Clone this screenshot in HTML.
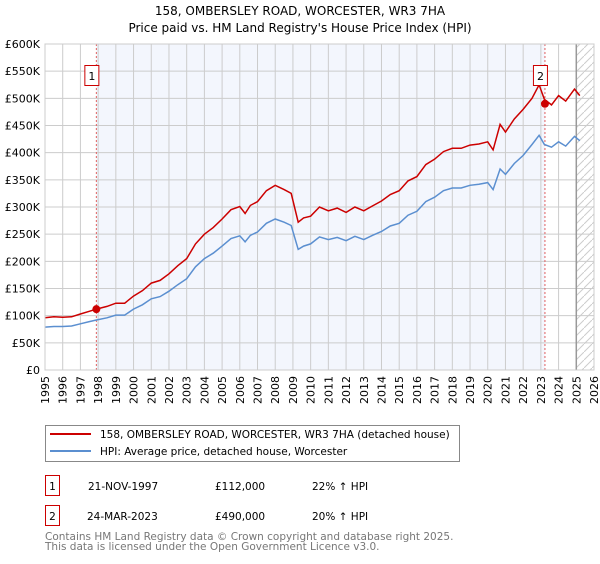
<!DOCTYPE html>
<html><head><meta charset="utf-8"><style>
body{margin:0;background:#fff;font-family:"DejaVu Sans","Liberation Sans",sans-serif;}
svg text{font-family:"DejaVu Sans","Liberation Sans",sans-serif;}
</style></head><body>
<svg id="c" width="600" height="560" viewBox="0 0 600 560" xmlns="http://www.w3.org/2000/svg">
<defs><pattern id="hatch" width="8" height="8" patternUnits="userSpaceOnUse"><path d="M0,8 L8,0" stroke="#ccc" stroke-width="1"/></pattern></defs>
<text x="300" y="15" text-anchor="middle" font-size="12">158, OMBERSLEY ROAD, WORCESTER, WR3 7HA</text>
<text x="300" y="32" text-anchor="middle" font-size="12">Price paid vs. HM Land Registry's House Price Index (HPI)</text>
<g id="plot"></g>
<g>
<rect x="45.5" y="425.5" width="414" height="36" fill="#fff" stroke="#888"/>
<line x1="50" y1="434" x2="91" y2="434" stroke="#cc0000" stroke-width="2"/>
<text x="100" y="438" font-size="10.5">158, OMBERSLEY ROAD, WORCESTER, WR3 7HA (detached house)</text>
<line x1="50" y1="451" x2="91" y2="451" stroke="#5b8fd0" stroke-width="2"/>
<text x="100" y="455" font-size="10.5">HPI: Average price, detached house, Worcester</text>
</g>
<g font-size="10.5">
<rect x="45.5" y="475.5" width="14" height="20" fill="#fff" stroke="#cc0000"/>
<text x="52.5" y="490" text-anchor="middle">1</text>
<text x="88" y="490">21-NOV-1997</text><text x="215" y="490">£112,000</text><text x="312" y="490">22% ↑ HPI</text>
<rect x="45.5" y="505.5" width="14" height="20" fill="#fff" stroke="#cc0000"/>
<text x="52.5" y="520" text-anchor="middle">2</text>
<text x="87" y="520">24-MAR-2023</text><text x="215" y="520">£490,000</text><text x="312" y="520">20% ↑ HPI</text>
</g>
<text x="45" y="540" font-size="10.5" fill="#777">Contains HM Land Registry data © Crown copyright and database right 2025.</text>
<text x="45" y="550" font-size="10.5" fill="#777">This data is licensed under the Open Government Licence v3.0.</text>
</svg>
<script>
const hpiYears=[1995,1995.5,1996,1996.5,1997,1997.5,1997.9,1998.5,1999,1999.5,2000,2000.5,2001,2001.5,2002,2002.5,2003,2003.5,2004,2004.5,2005,2005.5,2006,2006.3,2006.6,2007,2007.5,2008,2008.5,2008.9,2009.3,2009.6,2010,2010.5,2011,2011.5,2012,2012.5,2013,2013.5,2014,2014.5,2015,2015.5,2016,2016.5,2017,2017.5,2018,2018.5,2019,2019.5,2020,2020.3,2020.7,2021,2021.5,2022,2022.5,2022.9,2023.2,2023.6,2024,2024.4,2024.9,2025.2];
const hpiValues=[79,80,80,81,85,89,92,96,101,101,112,120,131,135,145,157,168,190,205,215,228,242,247,236,248,254,270,278,272,266,222,228,232,245,240,244,238,246,240,248,255,265,270,285,292,310,318,330,335,335,340,342,345,332,370,360,380,395,415,432,415,410,420,412,430,422];
const ppValues=[96,98,97,98,103,108,112,117,123,123,136,146,160,165,177,192,205,232,250,262,278,295,301,288,303,310,330,340,332,325,272,280,283,300,293,298,290,300,293,302,311,323,330,348,356,378,388,402,408,408,414,416,420,405,452,438,462,480,500,525,498,488,505,495,517,505];
const sales=[[1997.9,112,"1"],[2023.23,490,"2"]];
const yTicks=[0,50,100,150,200,250,300,350,400,450,500,550,600];
const yTickLabels=["£0","£50K","£100K","£150K","£200K","£250K","£300K","£350K","£400K","£450K","£500K","£550K","£600K"];
const xTicks=[];for(let y=1995;y<=2026;y++)xTicks.push(y);
const L=45,R=594,T=44,B=370,X0=1995,X1=2026;
const sx=v=>L+(v-X0)/(X1-X0)*(R-L), sy=v=>B-v/600*(B-T);
const g=document.getElementById('plot'),NS='http://www.w3.org/2000/svg';
function mk(t,a,p){const e=document.createElementNS(NS,t);for(const k in a)e.setAttribute(k,a[k]);(p||g).appendChild(e);return e;}
let e;
e=mk('rect',{x:sx(sales[0][0]),y:T,width:sx(sales[1][0])-sx(sales[0][0]),height:B-T,fill:'#f3f6fd'});


e=mk('rect',{x:sx(2025.0),y:T,width:R-sx(2025.0),height:B-T,fill:'url(#hatch)'});


xTicks.forEach(v=>{e=mk('line',{x1:sx(v),y1:T,x2:sx(v),y2:B,stroke:'#ccc'});


e=mk('text',{x:0,y:0,'font-size':11,'text-anchor':'end',transform:`translate(${sx(v)+4},${B+6}) rotate(-90)`});e.textContent=v;

});
yTicks.forEach((v,i)=>{e=mk('line',{x1:L,y1:sy(v),x2:R,y2:sy(v),stroke:'#ccc'});


e=mk('text',{x:L-5,y:sy(v)+4,'font-size':11,'text-anchor':'end'});e.textContent=yTickLabels[i];

});
e=mk('line',{x1:sx(2025.0),y1:T,x2:sx(2025.0),y2:B,stroke:'#999','stroke-width':1.5});


sales.forEach(s=>{e=mk('line',{x1:sx(s[0]),y1:T,x2:sx(s[0]),y2:B,stroke:'#e06060','stroke-dasharray':'2,2'});

});
const path=(vals)=>hpiYears.map((y,i)=>(i?'L':'M')+sx(y).toFixed(1)+','+sy(vals[i]).toFixed(1)).join('');
e=mk('path',{d:path(hpiValues),fill:'none',stroke:'#5b8fd0','stroke-width':1.5});


e=mk('path',{d:path(ppValues),fill:'none',stroke:'#cc0000','stroke-width':1.5});


sales.forEach(s=>{e=mk('circle',{cx:sx(s[0]),cy:sy(s[1]),r:4,fill:'#cc0000'});


const bx=sx(s[0])-4;
e=mk('rect',{x:bx-7.5,y:65.5,width:14,height:20,fill:'#fff',stroke:'#cc0000'});


e=mk('text',{x:bx-0.5,y:80,'font-size':11,'text-anchor':'middle'});e.textContent=s[2];

});
e=mk('rect',{x:L,y:T,width:R-L,height:B-T,fill:'none',stroke:'#ccc'});


</script>
</body></html>
